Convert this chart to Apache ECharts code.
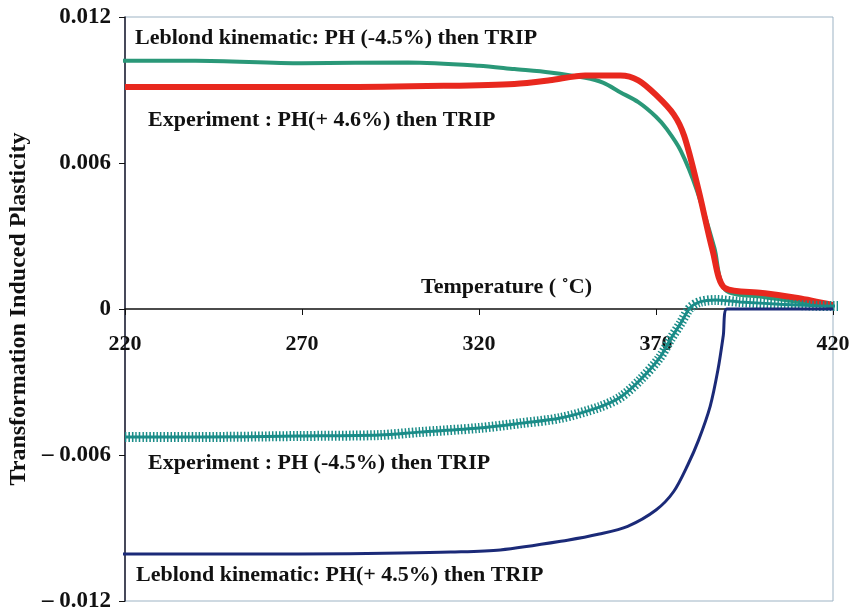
<!DOCTYPE html>
<html>
<head>
<meta charset="utf-8">
<script src="https://cdn.jsdelivr.net/npm/echarts@6.0.0/dist/echarts.min.js"></script>
<style>
  html, body { margin: 0; padding: 0; background: #fff; }
  #chart { width: 851px; height: 611px; }
</style>
</head>
<body>
<div id="chart"></div>
<script>
// temperature (C) / transformation induced plasticity
var leblondMinus = [
  [215, 0.0102], [240, 0.0102], [270, 0.0101], [300, 0.01013], [320, 0.0100],
  [330, 0.00986], [340, 0.00972], [350, 0.0095], [355, 0.0093], [360, 0.0089],
  [365, 0.0085], [370, 0.0079], [373, 0.0074], [377, 0.0065], [381.5, 0.0049],
  [386.5, 0.0025], [389.5, 0.0008], [400, 0.0005], [410, 0.0003], [420, 0.0001]
]
var expPlus = [
  [220, 0.00912], [250, 0.00912], [280, 0.00912], [310, 0.00917], [330, 0.00925],
  [340, 0.0094], [350, 0.0096], [355, 0.0096], [360, 0.0096], [365, 0.0094],
  [370, 0.0088], [375, 0.0080], [378, 0.0071], [382, 0.0049], [386, 0.0024],
  [389.5, 0.00086], [400, 0.00066], [410, 0.00045], [420, 0.00016]
]
var expMinus = [
  [220, -0.00526], [241, -0.00526], [269, -0.00522], [292, -0.00518], [303, -0.00506],
  [320, -0.00489], [332, -0.00469], [343, -0.00448], [354, -0.00403], [360, -0.00362],
  [365.5, -0.00292], [371, -0.00201], [374, -0.00127], [377, -0.00058], [379.6, 0.00004],
  [382.4, 0.00029], [386.7, 0.00037], [393.7, 0.00029], [405, 0.0002], [420, 0.00012],
  [424, 0.00012]
]
var leblondPlus = [
  [215, -0.01007], [241, -0.01007], [269, -0.01007], [298, -0.01003], [312, -0.00999],
  [326, -0.0099], [345, -0.0095], [354, -0.00925], [362, -0.00893], [370, -0.00826],
  [375, -0.0075], [379, -0.0064], [382, -0.0054], [385.3, -0.0040], [387.5, -0.0025],
  [389, -0.0011], [390, 0], [420, 0]
]
var yTicks = [-0.012, -0.006, 0, 0.006, 0.012]

var serif = '"Liberation Serif", "Times New Roman", serif'

var chart = echarts.init(document.getElementById('chart'))

function note(text, x, y) {
  return {
    type: 'text',
    x: x,
    y: y,
    style: {
      text: text,
      fill: '#111',
      fontSize: 22,
      fontWeight: 'bold',
      fontFamily: serif,
      verticalAlign: 'middle'
    }
  }
}

function curve(data, color, width, dash) {
  return {
    type: 'line',
    data: data,
    showSymbol: false,
    smooth: 0.3,
    clip: false,
    lineStyle: { color: color, width: width, type: dash || 'solid' }
  }
}

chart.setOption({
  animation: false,
  grid: {
    left: 125,
    right: 18,
    top: 17,
    bottom: 10,
    outerBoundsMode: 'none',
    show: true,
    borderColor: '#9db3c4',
    borderWidth: 1
  },
  xAxis: {
    type: 'value',
    position: 'bottom',
    offset: -292,
    min: 220,
    max: 420,
    interval: 50,
    axisLine: {
      onZero: false,
      lineStyle: { color: '#111', width: 1.5 }
    },
    axisTick: { show: true, length: 6, lineStyle: { color: '#111' } },
    axisLabel: {
      margin: 24,
      color: '#111',
      fontSize: 22,
      fontWeight: 'bold',
      fontFamily: serif
    },
    splitLine: { show: false }
  },
  yAxis: {
    type: 'value',
    min: yTicks[0],
    max: yTicks[yTicks.length - 1],
    interval: 0.006,
    name: 'Transformation Induced Plasticity',
    nameLocation: 'middle',
    nameGap: 85,
    nameRotate: 90,
    nameTextStyle: {
      color: '#111',
      fontSize: 24,
      fontWeight: 'bold',
      fontFamily: serif
    },
    axisLine: { show: true, onZero: false, lineStyle: { color: '#1a1a2e', width: 1.5 } },
    axisTick: { show: true, length: 6, lineStyle: { color: '#111' } },
    axisLabel: {
      margin: 14,
      color: '#111',
      fontSize: 23,
      fontWeight: 'bold',
      fontFamily: serif,
      formatter: function(v) {
        if (Math.abs(v) < 1e-9) return '0'
        return v < 0 ? '\u2013 ' + Math.abs(v).toFixed(3) : v.toFixed(3)
      }
    },
    splitLine: { show: false }
  },
  graphic: [
    note('Leblond kinematic: PH (-4.5%) then TRIP', 135, 38),
    note('Experiment : PH(+ 4.6%) then TRIP', 148, 120),
    note('Temperature ( \u02daC)', 421, 287),
    note('Experiment : PH (-4.5%) then TRIP', 148, 463),
    note('Leblond kinematic: PH(+ 4.5%) then TRIP', 136, 575)
  ],
  series: [
    curve(leblondMinus, '#2a9878', 4),
    curve(expPlus, '#e8281e', 6),
    curve(expMinus, '#1a8c88', 10, [1.5, 2]),
    curve(expMinus, '#1a8c88', 3),
    curve(leblondPlus, '#1b2a78', 3)
  ]
})
</script>
</body>
</html>
